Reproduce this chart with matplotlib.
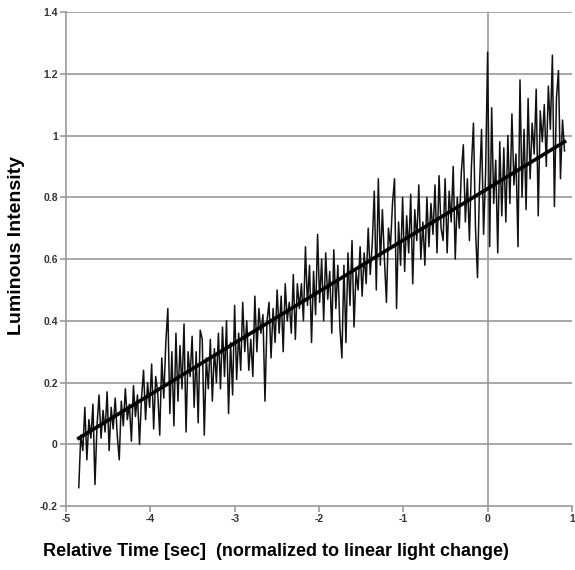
import numpy as np
import matplotlib
matplotlib.use("Agg")
import matplotlib.pyplot as plt

plt.rcParams['font.family'] = ['Liberation Sans', 'DejaVu Sans']

t_start, t_end = -4.85, 0.91
intensity = [
    -0.14, 0.03, -0.02, 0.12, -0.05, 0.08, 0.02, 0.13, -0.13, 0.06,
    0.16, 0.02, 0.11, 0.04, 0.17, -0.02, 0.12, 0.05, 0.15, 0.03,
    -0.05, 0.14, 0.06, 0.18, 0.08, 0.13, 0.01, 0.19, 0.09, 0.16,
    0.00, 0.15, 0.24, 0.08, 0.20, 0.12, 0.26, 0.05, 0.22, 0.17,
    0.03, 0.28, 0.15, 0.33, 0.44, 0.10, 0.30, 0.06, 0.36, 0.14,
    0.32, 0.18, 0.39, 0.04, 0.30, 0.22, 0.35, 0.12, 0.30, 0.07,
    0.37, 0.34, 0.03, 0.28, 0.18, 0.34, 0.14, 0.31, 0.20, 0.36,
    0.18, 0.38, 0.22, 0.40, 0.10, 0.33, 0.16, 0.45, 0.21, 0.36,
    0.24, 0.46, 0.30, 0.40, 0.24, 0.34, 0.22, 0.48, 0.30, 0.44,
    0.36, 0.42, 0.14, 0.40, 0.46, 0.28, 0.44, 0.33, 0.50, 0.36,
    0.48, 0.30, 0.52, 0.40, 0.46, 0.36, 0.55, 0.34, 0.52, 0.44,
    0.52, 0.40, 0.64, 0.45, 0.58, 0.33, 0.56, 0.42, 0.68, 0.46,
    0.60, 0.40, 0.62, 0.47, 0.56, 0.36, 0.63, 0.44, 0.58, 0.38,
    0.28, 0.58, 0.33, 0.62, 0.45, 0.66, 0.38, 0.56, 0.50, 0.64,
    0.48, 0.62, 0.52, 0.70, 0.55, 0.65, 0.82, 0.50, 0.86, 0.58,
    0.76, 0.60, 0.46, 0.70, 0.64, 0.78, 0.86, 0.44, 0.72, 0.58,
    0.80, 0.56, 0.74, 0.62, 0.81, 0.52, 0.76, 0.66, 0.84, 0.60,
    0.72, 0.58, 0.80, 0.64, 0.78, 0.68, 0.84, 0.62, 0.87, 0.70,
    0.66, 0.86, 0.62, 0.82, 0.72, 0.90, 0.60, 0.80, 0.70, 0.88,
    0.97, 0.72, 0.86, 0.66, 0.90, 1.04, 0.70, 0.54, 0.84, 1.02,
    0.68, 0.88, 1.27, 0.64, 1.09, 0.78, 0.92, 0.62, 0.98, 0.74,
    0.96, 0.72, 1.00, 0.78, 1.07, 0.84, 0.94, 0.64, 1.18, 0.80,
    1.02, 0.76, 1.12, 0.86, 1.04, 0.94, 1.15, 0.74, 1.08, 0.98,
    1.10, 0.90, 1.16, 1.02, 1.26, 0.77, 1.12, 1.21, 0.86, 1.05, 0.95,
]
t = np.linspace(t_start, t_end, len(intensity))

# linear light change (fit line end points)
fit_t = [-4.85, 0.91]
fit_y = [0.02, 0.98]

x_ticks = [-5, -4, -3, -2, -1, 0, 1]
y_ticks = [-0.2, 0, 0.2, 0.4, 0.6, 0.8, 1, 1.2, 1.4]
y_labels = ['-0.2', '0', '0.2', '0.4', '0.6', '0.8', '1', '1.2', '1.4']

fig = plt.figure(figsize=(5.75, 5.70), dpi=100)
ax = fig.add_axes([0.115, 0.112, 0.88, 0.867])

grid_c = '#999999'
for yv in y_ticks[1:]:
    ax.axhline(yv, color=grid_c, lw=1.2, zorder=0)
ax.axvline(0, color=grid_c, lw=1.2, zorder=0)

ax.plot(t, intensity, color='#111111', lw=1.1, zorder=2)
ax.plot(fit_t, fit_y, color='black', lw=2.6, zorder=3)

ax.set_xlim(-5, 1)
ax.set_ylim(-0.2, 1.4)
ax.set_xticks(x_ticks)
ax.set_xticklabels([str(v) for v in x_ticks])
ax.set_yticks(y_ticks)
ax.set_yticklabels(y_labels)
ax.tick_params(direction='out', length=4, width=1.2, color=grid_c,
               labelsize=7.5, labelcolor='#333333', pad=2)
for lbl in ax.get_xticklabels() + ax.get_yticklabels():
    lbl.set_fontweight('bold')

for side in ['top', 'right']:
    ax.spines[side].set_visible(False)
for side in ['left', 'bottom']:
    ax.spines[side].set_color(grid_c)
    ax.spines[side].set_linewidth(1.2)

ax.set_xlabel('Relative Time [sec]  (normalized to linear light change)',
              fontsize=13, fontweight='bold')
ax.set_ylabel('Luminous Intensity', fontsize=14, fontweight='bold')
ax.xaxis.set_label_coords(0.415, -0.075)
ax.yaxis.set_label_coords(-0.082, 0.528)

fig.savefig('out.png', dpi=100)
